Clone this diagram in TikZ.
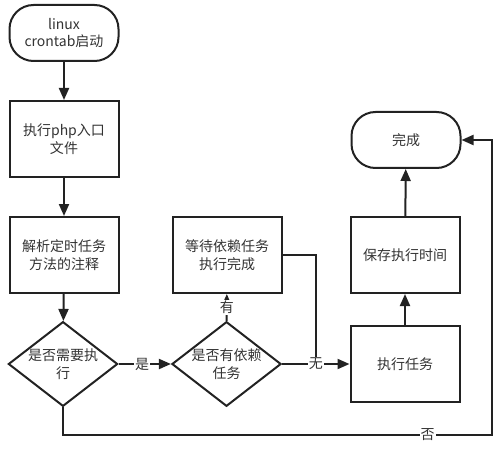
\documentclass[tikz,border=0pt]{standalone}
\usepackage{fontspec}
\setmainfont{Noto Sans CJK SC}
\usetikzlibrary{shapes.geometric,arrows.meta}
\definecolor{ln}{HTML}{222222}
\definecolor{tx}{HTML}{333333}
\tikzset{
  base/.style={draw=ln, line width=2pt, text=tx, align=center, font=\fontsize{14}{17.5}\selectfont, inner sep=0pt},
  boxn/.style={base, rectangle, minimum width=109pt, minimum height=76pt},
  term/.style={base, rectangle, rounded corners=24pt, minimum width=109pt, minimum height=56pt},
  dia/.style={base, diamond, aspect=1.29, minimum width=98pt, minimum height=76pt},
  conn/.style={draw=ln, line width=2pt, -{Triangle[length=12pt,width=10pt]}},
  plain/.style={draw=ln, line width=2pt},
  lab/.style={fill=white, text=tx, font=\fontsize{14}{16}\selectfont, inner sep=1pt}
}
\begin{document}
\begin{tikzpicture}[x=1pt,y=-1pt]
\useasboundingbox (0,0) rectangle (500,449);
\node[term] (start) at (64,33) {linux\\crontab启动};
\node[boxn] (php) at (64,139) {执行php入口\\文件};
\node[boxn] (parse) at (64,255) {解析定时任务\\方法的注释};
\node[dia] (need) at (63,364) {是否需要执\\行};
\node[dia] (dep) at (226.5,364) {是否有依赖\\任务};
\node[boxn] (wait) at (227,255) {等待依赖任务\\执行完成};
\node[boxn] (exec) at (405,364) {执行任务};
\node[boxn] (save) at (405,255) {保存执行时间};
\node[term] (done) at (406,140) {完成};
\coordinate (j) at (316,364);
\coordinate (b1) at (63,435);
\coordinate (b2) at (492,435);
\coordinate (b3) at (492,140);

\draw[conn] (start) -- (php);
\draw[conn] (php) -- (parse);
\draw[conn] (parse) -- (need);
\draw[conn] (need) -- node[lab, pos=0.45] {是} (dep);
\draw[conn] (dep) -- node[lab, pos=0.5] {有} (wait);
\draw[plain] (wait.east |- 0,255) -| (j);
\draw[conn] (dep) -- node[lab, pos=0.5] {无} (exec);
\draw[conn] (exec) -- (save);
\draw[conn] (save) -- (done);
\draw[conn] (need.south) -- (b1) -- node[lab, pos=0.85] {否} (b2) -- (b3) -- (done.east);
\end{tikzpicture}
\end{document}
